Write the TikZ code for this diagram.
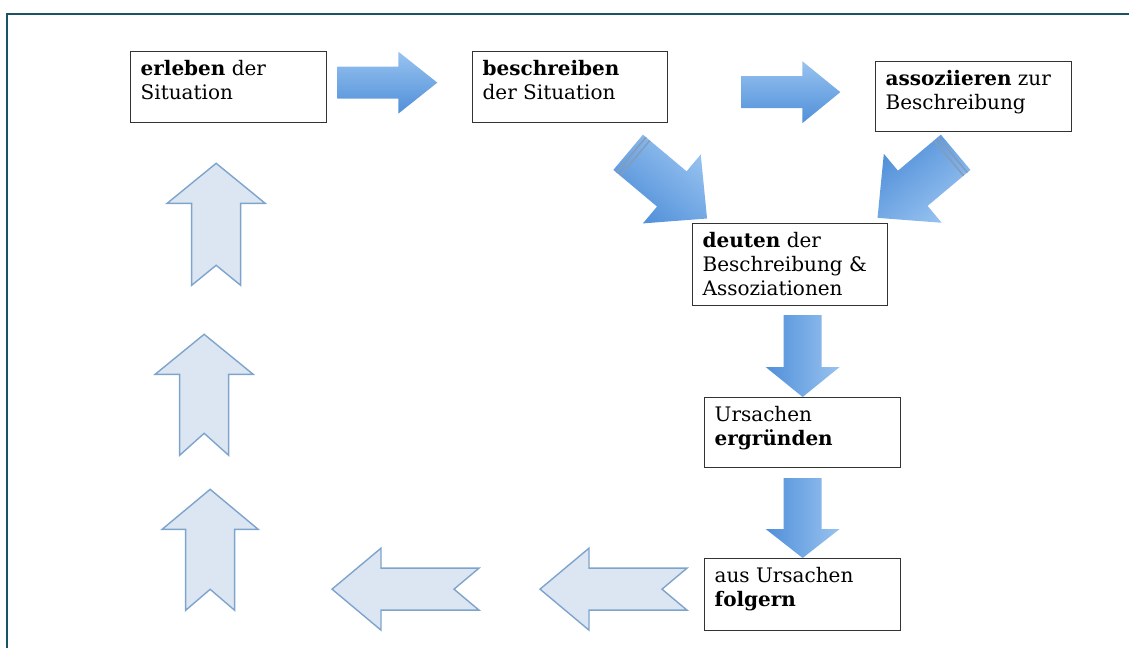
\documentclass[tikz,border=0pt]{standalone}
\usepackage{fontspec}
\setmainfont{DejaVu Serif}
\usepackage{xcolor}
\usetikzlibrary{calc}

\definecolor{framecolor}{RGB}{24,84,101}
\definecolor{arrowdark}{RGB}{80,143,217}
\definecolor{arrowlight}{RGB}{152,195,240}
\definecolor{paleline}{RGB}{126,164,205}
\definecolor{palefill}{RGB}{219,230,242}
\definecolor{stripecolor}{RGB}{132,156,186}

\begin{document}
\begin{tikzpicture}[x = 1pt, y = -1pt,
		stepbox/.style = {draw = black!80, line width = 1.3pt, anchor = north west, inner xsep = 10pt, inner ysep = 7pt, font = \fontsize{20}{24}\selectfont},
		darkarrow/.style = {top color = arrowlight, bottom color = arrowdark, shading angle = #1},
		palearrow/.style = {fill = palefill, draw = paleline, line width = 1.4pt}]
		\def\steplines#1#2#3{\parbox[t][#2pt][t]{#1pt}{\strut #3}}
		\def\blockarrow#1#2#3#4#5#6#7#8{
			\begin{scope}[shift = {#2}, rotate = #3]
				\path [#1] (0,-#5) -- (#4-#7,-#5) -- (#4-#7,-#6) -- (#4,0) -- (#4-#7,#6) -- (#4-#7,#5) -- (0,#5) -- (#8,0) -- cycle;
			\end{scope}
		}
		\def\tailstripes#1#2#3{
			\begin{scope}[shift = {#1}, rotate = #2]
				\draw [stripecolor, line width = 1.5pt] (4,-#3) -- (4,#3) (9,-#3) -- (9,#3);
			\end{scope}
		}
		
		\useasboundingbox (0,0) rectangle (1129,648);
		\draw [framecolor, line width = 2.5pt] (7,648) -- (7,14) -- (1129,14);
		
		\begin{scope}
			\node [stepbox] (erleben) at (130,51) {\steplines{176}{57}{\textbf{erleben} der\\Situation}};
			\node [stepbox] (beschreiben) at (472,51) {\steplines{175}{57}{\textbf{beschreiben}\\der Situation}};
			\node [stepbox] (assoziieren) at (875,61) {\steplines{176}{56}{\textbf{assoziieren} zur\\Beschreibung}};
			\node [stepbox] (deuten) at (692,223) {\steplines{175}{68}{\textbf{deuten} der\\Beschreibung \&\\Assoziationen}};
			\node [stepbox] (ergruenden) at (704,397) {\steplines{176}{56}{Ursachen\\\textbf{ergründen}}};
			\node [stepbox] (folgern) at (704,558) {\steplines{176}{58}{aus Ursachen\\\textbf{folgern}}};
		\end{scope}
		
		\begin{scope}
			\blockarrow{darkarrow = 0}{($(erleben.east)+(10,-4.5)$)}{0}{100}{16}{31}{39}{0}
			\blockarrow{darkarrow = 0}{($(beschreiben.east)+(73,5)$)}{0}{99}{16}{31}{38}{0}
			\blockarrow{darkarrow = -40}{($(beschreiben.south)+(58,29)$)}{-40}{103}{23}{45}{46}{0}
			\blockarrow{darkarrow = -140}{($(assoziieren.south)+(-18,20)$)}{-140}{102}{23}{45}{46}{0}
			\tailstripes{($(beschreiben.south)+(58,29)$)}{-40}{23}
			\tailstripes{($(assoziieren.south)+(-18,20)$)}{-140}{23}
			\blockarrow{darkarrow = -90}{($(ergruenden.north)+(0,-82)$)}{-90}{82}{19}{37}{30}{0}
			\blockarrow{darkarrow = -90}{($(folgern.north)+(0,-80)$)}{-90}{80}{19}{37}{29}{0}
		\end{scope}
		
		\begin{scope}
			\blockarrow{palearrow}{($(folgern.west)+(-17,-5.5)$)}{180}{147}{21}{41}{49}{25}
			\blockarrow{palearrow}{($(folgern.west)+(-225,-5.5)$)}{180}{147}{21}{41}{49}{25}
			\blockarrow{palearrow}{($(erleben.south)+(-18.5,487)$)}{90}{121}{24.5}{48}{40}{21}
			\blockarrow{palearrow}{($(erleben.south)+(-24.5,332)$)}{90}{121}{24.5}{49}{40}{22}
			\blockarrow{palearrow}{($(erleben.south)+(-12.5,162)$)}{90}{122}{24.5}{49}{40}{20}
		\end{scope}
	\end{tikzpicture}
\end{document}
